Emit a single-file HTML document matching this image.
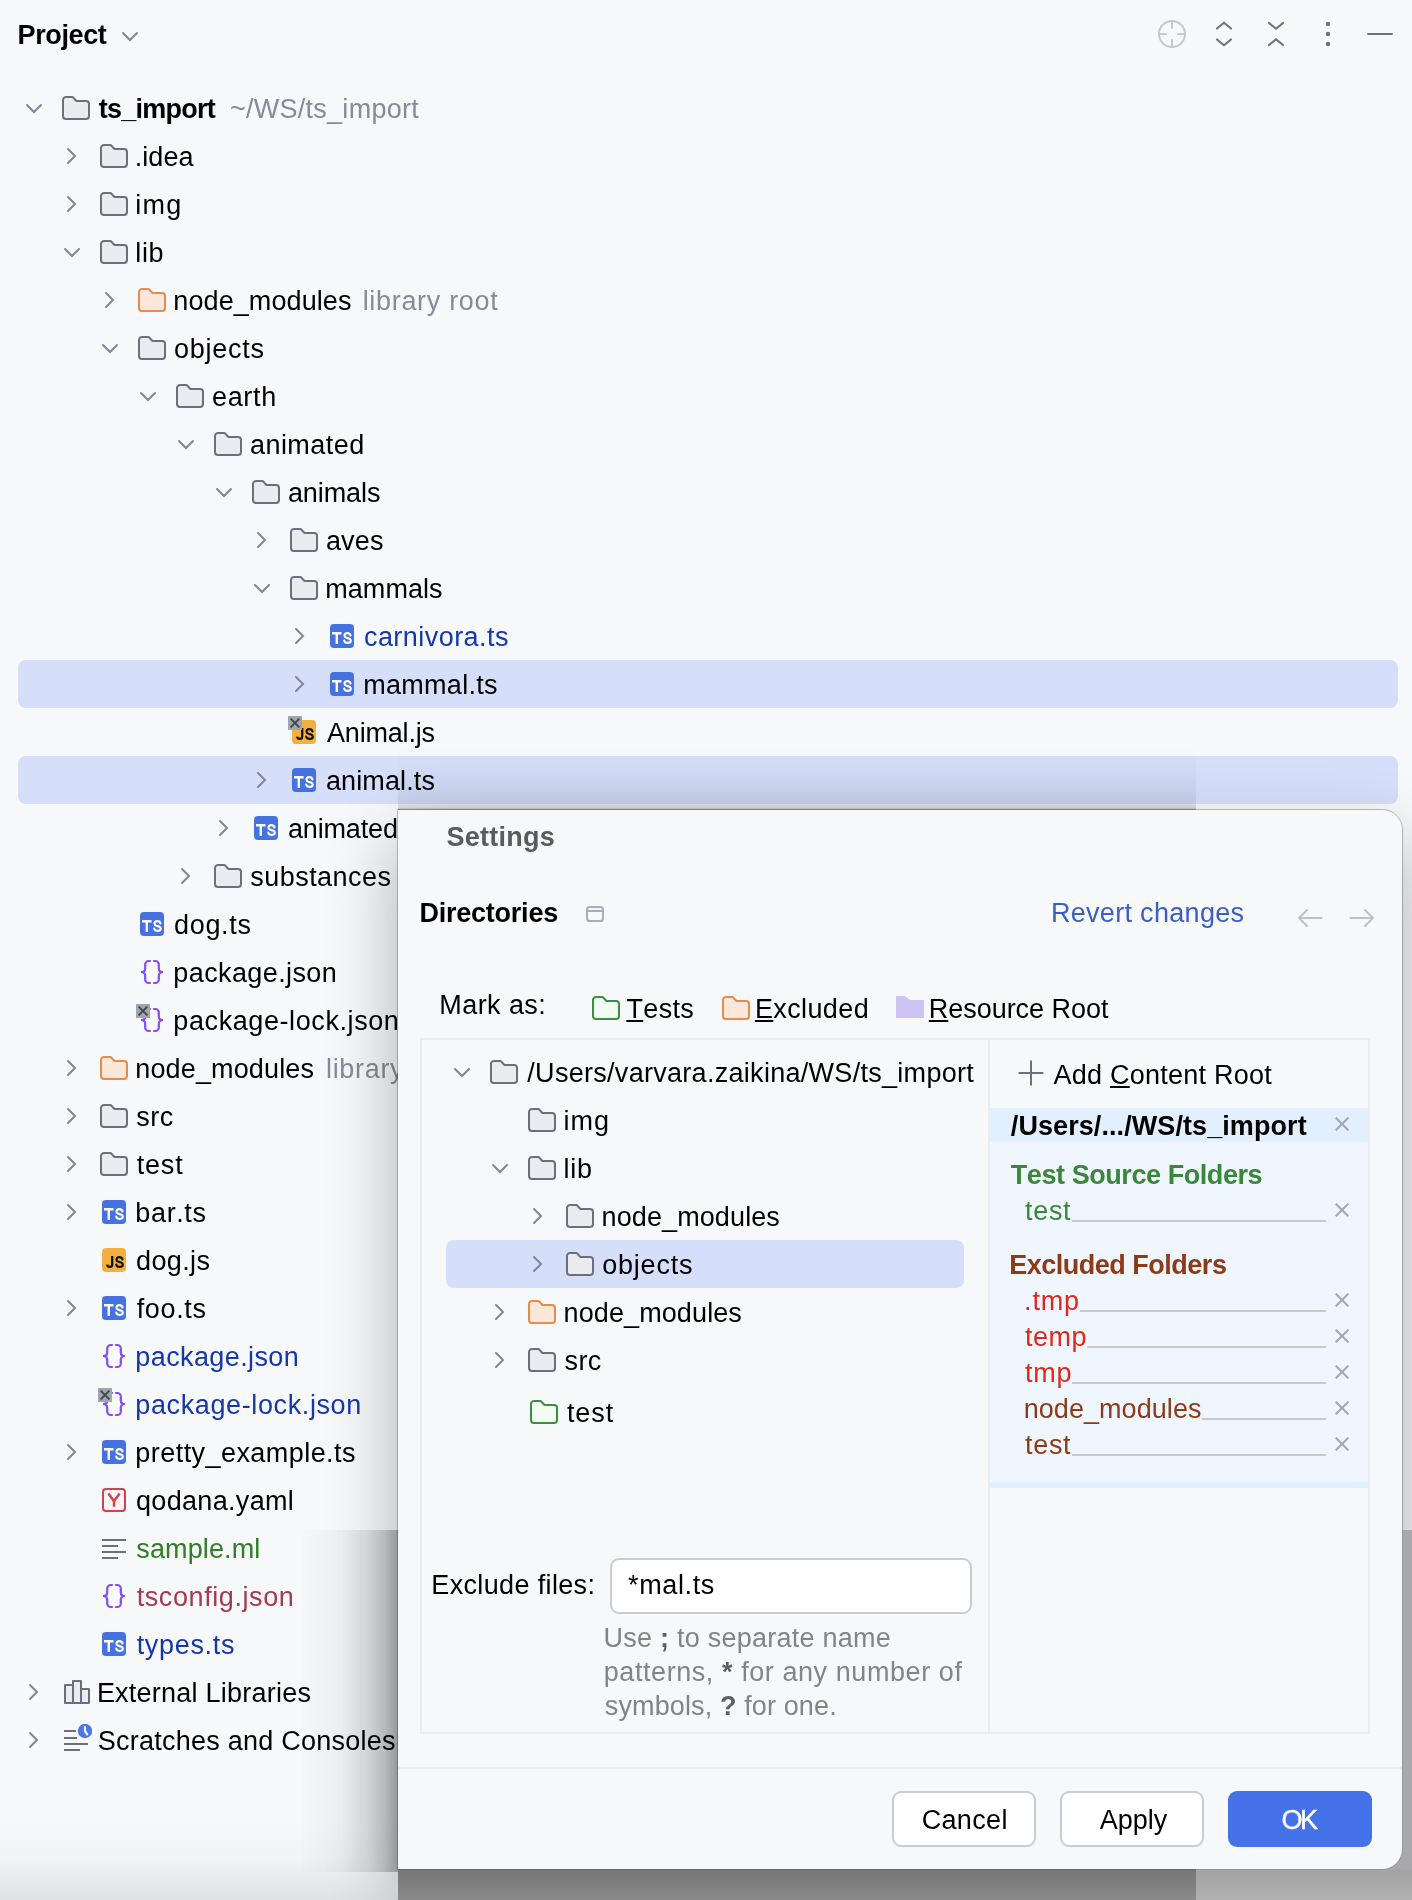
<!DOCTYPE html>
<html>
<head>
<meta charset="utf-8">
<title>Project - Settings</title>
<style>
html,body{margin:0;padding:0;}
body{width:1412px;height:1900px;position:relative;overflow:hidden;background:#f7f8fa;font-family:"Liberation Sans",sans-serif;font-kerning:none;}
.a{position:absolute;display:block;}
.t{position:absolute;white-space:nowrap;line-height:48px;}
.t u{text-decoration:underline;text-decoration-thickness:2px;text-underline-offset:2px;}
#left{position:absolute;left:0;top:0;width:1412px;height:1900px;overflow:hidden;will-change:transform;}
#dlg{position:absolute;left:398px;top:810px;width:1004px;height:1059px;background:#f7f8fa;border-radius:0 20px 20px 0;box-shadow:0 0 0 1px rgba(0,0,0,0.13),0 30px 70px 0 rgba(0,0,0,0.30);}
#dlgc{position:absolute;left:0;top:0;width:1412px;height:1900px;will-change:transform;}
</style>
</head>
<body>

<svg width="0" height="0" style="position:absolute">
<defs>
<symbol id="folder" viewBox="0 0 16 16"><path d="M8.10584 4.34613L8.25344 4.5H8.46667H13C13.8284 4.5 14.5 5.17157 14.5 6V12C14.5 12.8284 13.8284 13.5 13 13.5H3C2.17157 13.5 1.5 12.8284 1.5 12V4C1.5 3.17157 2.17157 2.5 3 2.5H6.12188C6.25821 2.5 6.38865 2.55567 6.48298 2.65409L8.10584 4.34613Z" fill="#EBECF0" stroke="#6C707E"/></symbol>
<symbol id="folderO" viewBox="0 0 16 16"><path d="M8.10584 4.34613L8.25344 4.5H8.46667H13C13.8284 4.5 14.5 5.17157 14.5 6V12C14.5 12.8284 13.8284 13.5 13 13.5H3C2.17157 13.5 1.5 12.8284 1.5 12V4C1.5 3.17157 2.17157 2.5 3 2.5H6.12188C6.25821 2.5 6.38865 2.55567 6.48298 2.65409L8.10584 4.34613Z" fill="#FCE8DA" stroke="#E58C4C"/></symbol>
<symbol id="folderG" viewBox="0 0 16 16"><path d="M8.10584 4.34613L8.25344 4.5H8.46667H13C13.8284 4.5 14.5 5.17157 14.5 6V12C14.5 12.8284 13.8284 13.5 13 13.5H3C2.17157 13.5 1.5 12.8284 1.5 12V4C1.5 3.17157 2.17157 2.5 3 2.5H6.12188C6.25821 2.5 6.38865 2.55567 6.48298 2.65409L8.10584 4.34613Z" fill="#F2FCF3" stroke="#3A8F47"/></symbol>
<symbol id="folderP" viewBox="0 0 16 16"><path d="M1 2H5.4L8.2 4H15V13H1Z" fill="#CEC3F2"/></symbol>
<symbol id="cr" viewBox="0 0 16 16"><path d="M6 11.5L9.5 8L6 4.5" fill="none" stroke="#818594" stroke-linecap="round"/></symbol>
<symbol id="cd" viewBox="0 0 16 16"><path d="M11.5 6.5L8 10L4.5 6.5" fill="none" stroke="#818594" stroke-linecap="round"/></symbol>
<symbol id="ts" viewBox="0 0 16 16"><rect x="2" y="2" width="12" height="12" rx="2" fill="#4571E1"/><path d="M3 6.65H7.75M5.4 6.65V12" stroke="#fff" stroke-width="1.2" fill="none"/><path d="M12.25 7.75C12.05 7 11.5 6.55 10.7 6.55C9.85 6.55 9.25 7.05 9.25 7.8C9.25 8.55 9.8 8.85 10.75 9.05C11.8 9.3 12.4 9.6 12.4 10.35C12.4 11.05 11.7 11.45 10.8 11.45C9.9 11.45 9.3 11 9.1 10.25" stroke="#fff" stroke-width="1.05" fill="none" stroke-linecap="round"/></symbol>
<symbol id="js" viewBox="0 0 16 16"><rect x="2" y="2" width="12" height="12" rx="2" fill="#F3B03F"/><path d="M7.1 6V10.2C7.1 11 6.6 11.4 5.9 11.4C5.2 11.4 4.7 11 4.6 10.3" stroke="#111" stroke-width="1.15" fill="none"/><path d="M12.25 7.75C12.05 7 11.5 6.55 10.7 6.55C9.85 6.55 9.25 7.05 9.25 7.8C9.25 8.55 9.8 8.85 10.75 9.05C11.8 9.3 12.4 9.6 12.4 10.35C12.4 11.05 11.7 11.45 10.8 11.45C9.9 11.45 9.3 11 9.1 10.25" stroke="#111" stroke-width="1.05" fill="none" stroke-linecap="round"/></symbol>
<symbol id="json" viewBox="0 0 16 16"><path d="M7 2.5H6.4C5.4 2.5 4.6 3.3 4.6 4.3V6.2C4.6 7.2 3.8 8 2.5 8C3.8 8 4.6 8.8 4.6 9.8V11.7C4.6 12.7 5.4 13.5 6.4 13.5H7" fill="none" stroke="#834DF0" stroke-width="1.1" stroke-linecap="round"/><path d="M9 2.5H9.6C10.6 2.5 11.4 3.3 11.4 4.3V6.2C11.4 7.2 12.2 8 13.5 8C12.2 8 11.4 8.8 11.4 9.8V11.7C11.4 12.7 10.6 13.5 9.6 13.5H9" fill="none" stroke="#834DF0" stroke-width="1.1" stroke-linecap="round"/></symbol>
<symbol id="yaml" viewBox="0 0 16 16"><rect x="2.5" y="2.5" width="11" height="11" rx="1.5" fill="#FFF5F5" stroke="#D2414D"/><path d="M5.2 4.8L8 8.6L10.8 4.8M8 8.6V11.4" fill="none" stroke="#D2414D" stroke-width="1.25"/></symbol>
<symbol id="text" viewBox="0 0 16 16"><path d="M2 4H14M2 7H10M2 10H14M2 13H10" stroke="#6C707E"/></symbol>
<symbol id="libs" viewBox="0 0 16 16"><path d="M2.5 4.5H6.5V13.5H2.5Z M6.5 2.5H10.5V13.5H6.5Z M10.5 6.5H14.5V13.5H10.5Z" fill="#EBECF0" stroke="#6C707E" stroke-linejoin="round"/></symbol>
<symbol id="scratch" viewBox="0 0 16 16"><path d="M2 3.5H8M2 7H8.5M2 10H14M2 13H10" stroke="#6C707E"/><circle cx="12.5" cy="3.5" r="3.6" fill="#4a78e8"/><path d="M12.5 1.6V3.6L13.6 5.2" fill="none" stroke="#fff" stroke-width="1.1" stroke-linecap="round"/></symbol>
<symbol id="excl" viewBox="0 0 16 16"><rect x="0" y="0" width="7" height="7" fill="#9fa6ad"/><path d="M1.3 1.3L5.7 5.7M5.7 1.3L1.3 5.7" stroke="#45484d" stroke-width="1"/></symbol>
<symbol id="locate" viewBox="0 0 16 16"><circle cx="8" cy="8" r="6.5" fill="none" stroke="#c6c7c9"/><path d="M8 1.5V5.4M8 10.6V14.5M1.5 8H5.4M10.6 8H14.5" stroke="#c6c7c9"/></symbol>
<symbol id="expall" viewBox="0 0 16 16"><path d="M4.5 5.3L8 2.4L11.5 5.3M4.5 10.7L8 13.6L11.5 10.7" fill="none" stroke="#6C707E" stroke-linecap="round"/></symbol>
<symbol id="colall" viewBox="0 0 16 16"><path d="M4.5 2.45L8 5.35L11.5 2.45M4.5 13.55L8 10.65L11.5 13.55" fill="none" stroke="#6C707E" stroke-linecap="round"/></symbol>
<symbol id="kebab" viewBox="0 0 16 16"><circle cx="8" cy="3" r="1.1" fill="#6C707E"/><circle cx="8" cy="8" r="1.1" fill="#6C707E"/><circle cx="8" cy="13" r="1.1" fill="#6C707E"/></symbol>
<symbol id="proj" viewBox="0 0 16 16"><rect x="4" y="4.5" width="8" height="7" rx="1.3" fill="none" stroke="#a8adbd"/><path d="M4 6.5H12" stroke="#a8adbd"/></symbol>
<symbol id="al" viewBox="0 0 16 16"><path d="M13.8 8H2.5M6.5 4L2.5 8L6.5 12" fill="none" stroke="#c0c1c4" stroke-linecap="round"/></symbol>
<symbol id="ar" viewBox="0 0 16 16"><path d="M2.2 8H13.5M9.5 4L13.5 8L9.5 12" fill="none" stroke="#c0c1c4" stroke-linecap="round"/></symbol>
<symbol id="plus" viewBox="0 0 16 16"><path d="M8 1.8V14.2M1.8 8H14.2" stroke="#6C707E"/></symbol>
<symbol id="x" viewBox="0 0 16 16"><path d="M4.85 4.85L11.15 11.15M11.15 4.85L4.85 11.15" stroke="#a3a6b6"/></symbol>
</defs>
</svg>

<div id="left">
<div class="a" style="left:18px;top:660px;width:1380px;height:48px;background:#d5dffa;border-radius:8px;"></div>
<div class="a" style="left:18px;top:756px;width:1380px;height:48px;background:#d5dffa;border-radius:8px;"></div>
<span class="t" style="left:17.59px;top:11.00px;font-size:27px;letter-spacing:-0.383px;color:#000;font-weight:bold;">Project</span>
<svg class="a" style="left:114px;top:20px" width="32" height="32" viewBox="0 0 16 16"><use href="#cd"/></svg>
<svg class="a" style="left:18px;top:92px;" width="32" height="32" viewBox="0 0 16 16"><use href="#cd"/></svg>
<svg class="a" style="left:60px;top:92px;" width="32" height="32" viewBox="0 0 16 16"><use href="#folder"/></svg>
<span class="t" style="left:98.77px;top:85.00px;font-size:27px;letter-spacing:-0.745px;color:#000;font-weight:bold;">ts_import</span>
<span class="t" style="left:229.99px;top:85.00px;font-size:27px;letter-spacing:0.263px;color:#868a9a;">~/WS/ts_import</span>
<svg class="a" style="left:56px;top:140px;" width="32" height="32" viewBox="0 0 16 16"><use href="#cr"/></svg>
<svg class="a" style="left:98px;top:140px;" width="32" height="32" viewBox="0 0 16 16"><use href="#folder"/></svg>
<span class="t" style="left:134.63px;top:133.00px;font-size:27px;letter-spacing:0.079px;color:#000;">.idea</span>
<svg class="a" style="left:56px;top:188px;" width="32" height="32" viewBox="0 0 16 16"><use href="#cr"/></svg>
<svg class="a" style="left:98px;top:188px;" width="32" height="32" viewBox="0 0 16 16"><use href="#folder"/></svg>
<span class="t" style="left:135.29px;top:181.00px;font-size:27px;letter-spacing:1.220px;color:#000;">img</span>
<svg class="a" style="left:56px;top:236px;" width="32" height="32" viewBox="0 0 16 16"><use href="#cd"/></svg>
<svg class="a" style="left:98px;top:236px;" width="32" height="32" viewBox="0 0 16 16"><use href="#folder"/></svg>
<span class="t" style="left:135.28px;top:229.00px;font-size:27px;letter-spacing:0.670px;color:#000;">lib</span>
<svg class="a" style="left:94px;top:284px;" width="32" height="32" viewBox="0 0 16 16"><use href="#cr"/></svg>
<svg class="a" style="left:136px;top:284px;" width="32" height="32" viewBox="0 0 16 16"><use href="#folderO"/></svg>
<span class="t" style="left:173.31px;top:277.00px;font-size:27px;letter-spacing:0.094px;color:#000;">node_modules</span>
<span class="t" style="left:362.68px;top:277.00px;font-size:27px;letter-spacing:0.680px;color:#868a9a;">library root</span>
<svg class="a" style="left:94px;top:332px;" width="32" height="32" viewBox="0 0 16 16"><use href="#cd"/></svg>
<svg class="a" style="left:136px;top:332px;" width="32" height="32" viewBox="0 0 16 16"><use href="#folder"/></svg>
<span class="t" style="left:173.97px;top:325.00px;font-size:27px;letter-spacing:0.744px;color:#000;">objects</span>
<svg class="a" style="left:132px;top:380px;" width="32" height="32" viewBox="0 0 16 16"><use href="#cd"/></svg>
<svg class="a" style="left:174px;top:380px;" width="32" height="32" viewBox="0 0 16 16"><use href="#folder"/></svg>
<span class="t" style="left:211.95px;top:373.00px;font-size:27px;letter-spacing:0.690px;color:#000;">earth</span>
<svg class="a" style="left:170px;top:428px;" width="32" height="32" viewBox="0 0 16 16"><use href="#cd"/></svg>
<svg class="a" style="left:212px;top:428px;" width="32" height="32" viewBox="0 0 16 16"><use href="#folder"/></svg>
<span class="t" style="left:249.95px;top:421.00px;font-size:27px;letter-spacing:0.459px;color:#000;">animated</span>
<svg class="a" style="left:208px;top:476px;" width="32" height="32" viewBox="0 0 16 16"><use href="#cd"/></svg>
<svg class="a" style="left:250px;top:476px;" width="32" height="32" viewBox="0 0 16 16"><use href="#folder"/></svg>
<span class="t" style="left:287.95px;top:469.00px;font-size:27px;letter-spacing:-0.086px;color:#000;">animals</span>
<svg class="a" style="left:246px;top:524px;" width="32" height="32" viewBox="0 0 16 16"><use href="#cr"/></svg>
<svg class="a" style="left:288px;top:524px;" width="32" height="32" viewBox="0 0 16 16"><use href="#folder"/></svg>
<span class="t" style="left:325.95px;top:517.00px;font-size:27px;letter-spacing:0.163px;color:#000;">aves</span>
<svg class="a" style="left:246px;top:572px;" width="32" height="32" viewBox="0 0 16 16"><use href="#cd"/></svg>
<svg class="a" style="left:288px;top:572px;" width="32" height="32" viewBox="0 0 16 16"><use href="#folder"/></svg>
<span class="t" style="left:325.31px;top:565.00px;font-size:27px;letter-spacing:0.027px;color:#000;">mammals</span>
<svg class="a" style="left:284px;top:620px;" width="32" height="32" viewBox="0 0 16 16"><use href="#cr"/></svg>
<svg class="a" style="left:326px;top:620px;" width="32" height="32" viewBox="0 0 16 16"><use href="#ts"/></svg>
<span class="t" style="left:363.95px;top:613.00px;font-size:27px;letter-spacing:0.452px;color:#1438ab;">carnivora.ts</span>
<svg class="a" style="left:284px;top:668px;" width="32" height="32" viewBox="0 0 16 16"><use href="#cr"/></svg>
<svg class="a" style="left:326px;top:668px;" width="32" height="32" viewBox="0 0 16 16"><use href="#ts"/></svg>
<span class="t" style="left:363.31px;top:661.00px;font-size:27px;letter-spacing:0.270px;color:#000;">mammal.ts</span>
<svg class="a" style="left:288px;top:716px;" width="32" height="32" viewBox="0 0 16 16"><use href="#js"/></svg>
<svg class="a" style="left:288px;top:716px;" width="32" height="32" viewBox="0 0 16 16"><use href="#excl"/></svg>
<span class="t" style="left:327.05px;top:709.00px;font-size:27px;letter-spacing:-0.200px;color:#000;">Animal.js</span>
<svg class="a" style="left:246px;top:764px;" width="32" height="32" viewBox="0 0 16 16"><use href="#cr"/></svg>
<svg class="a" style="left:288px;top:764px;" width="32" height="32" viewBox="0 0 16 16"><use href="#ts"/></svg>
<span class="t" style="left:325.95px;top:757.00px;font-size:27px;letter-spacing:0.123px;color:#000;">animal.ts</span>
<svg class="a" style="left:208px;top:812px;" width="32" height="32" viewBox="0 0 16 16"><use href="#cr"/></svg>
<svg class="a" style="left:250px;top:812px;" width="32" height="32" viewBox="0 0 16 16"><use href="#ts"/></svg>
<span class="t" style="left:287.95px;top:805.00px;font-size:27px;letter-spacing:-0.155px;color:#000;">animated.ts</span>
<svg class="a" style="left:170px;top:860px;" width="32" height="32" viewBox="0 0 16 16"><use href="#cr"/></svg>
<svg class="a" style="left:212px;top:860px;" width="32" height="32" viewBox="0 0 16 16"><use href="#folder"/></svg>
<span class="t" style="left:250.35px;top:853.00px;font-size:27px;letter-spacing:0.449px;color:#000;">substances</span>
<svg class="a" style="left:136px;top:908px;" width="32" height="32" viewBox="0 0 16 16"><use href="#ts"/></svg>
<span class="t" style="left:173.97px;top:901.00px;font-size:27px;letter-spacing:0.692px;color:#000;">dog.ts</span>
<svg class="a" style="left:136px;top:956px;" width="32" height="32" viewBox="0 0 16 16"><use href="#json"/></svg>
<span class="t" style="left:173.36px;top:949.00px;font-size:27px;letter-spacing:0.389px;color:#000;">package.json</span>
<svg class="a" style="left:136px;top:1004px;" width="32" height="32" viewBox="0 0 16 16"><use href="#json"/></svg>
<svg class="a" style="left:136px;top:1004px;" width="32" height="32" viewBox="0 0 16 16"><use href="#excl"/></svg>
<span class="t" style="left:173.36px;top:997.00px;font-size:27px;letter-spacing:0.586px;color:#000;">package-lock.json</span>
<svg class="a" style="left:56px;top:1052px;" width="32" height="32" viewBox="0 0 16 16"><use href="#cr"/></svg>
<svg class="a" style="left:98px;top:1052px;" width="32" height="32" viewBox="0 0 16 16"><use href="#folderO"/></svg>
<span class="t" style="left:135.31px;top:1045.00px;font-size:27px;letter-spacing:0.139px;color:#000;">node_modules</span>
<span class="t" style="left:325.98px;top:1045.00px;font-size:27px;letter-spacing:0.680px;color:#868a9a;">library root</span>
<svg class="a" style="left:56px;top:1100px;" width="32" height="32" viewBox="0 0 16 16"><use href="#cr"/></svg>
<svg class="a" style="left:98px;top:1100px;" width="32" height="32" viewBox="0 0 16 16"><use href="#folder"/></svg>
<span class="t" style="left:136.35px;top:1093.00px;font-size:27px;letter-spacing:0.436px;color:#000;">src</span>
<svg class="a" style="left:56px;top:1148px;" width="32" height="32" viewBox="0 0 16 16"><use href="#cr"/></svg>
<svg class="a" style="left:98px;top:1148px;" width="32" height="32" viewBox="0 0 16 16"><use href="#folder"/></svg>
<span class="t" style="left:136.69px;top:1141.00px;font-size:27px;letter-spacing:0.829px;color:#000;">test</span>
<svg class="a" style="left:56px;top:1196px;" width="32" height="32" viewBox="0 0 16 16"><use href="#cr"/></svg>
<svg class="a" style="left:98px;top:1196px;" width="32" height="32" viewBox="0 0 16 16"><use href="#ts"/></svg>
<span class="t" style="left:135.36px;top:1189.00px;font-size:27px;letter-spacing:0.618px;color:#000;">bar.ts</span>
<svg class="a" style="left:98px;top:1244px;" width="32" height="32" viewBox="0 0 16 16"><use href="#js"/></svg>
<span class="t" style="left:135.97px;top:1237.00px;font-size:27px;letter-spacing:0.392px;color:#000;">dog.js</span>
<svg class="a" style="left:56px;top:1292px;" width="32" height="32" viewBox="0 0 16 16"><use href="#cr"/></svg>
<svg class="a" style="left:98px;top:1292px;" width="32" height="32" viewBox="0 0 16 16"><use href="#ts"/></svg>
<span class="t" style="left:136.72px;top:1285.00px;font-size:27px;letter-spacing:0.644px;color:#000;">foo.ts</span>
<svg class="a" style="left:98px;top:1340px;" width="32" height="32" viewBox="0 0 16 16"><use href="#json"/></svg>
<span class="t" style="left:135.36px;top:1333.00px;font-size:27px;letter-spacing:0.389px;color:#1438ab;">package.json</span>
<svg class="a" style="left:98px;top:1388px;" width="32" height="32" viewBox="0 0 16 16"><use href="#json"/></svg>
<svg class="a" style="left:98px;top:1388px;" width="32" height="32" viewBox="0 0 16 16"><use href="#excl"/></svg>
<span class="t" style="left:135.36px;top:1381.00px;font-size:27px;letter-spacing:0.611px;color:#1438ab;">package-lock.json</span>
<svg class="a" style="left:56px;top:1436px;" width="32" height="32" viewBox="0 0 16 16"><use href="#cr"/></svg>
<svg class="a" style="left:98px;top:1436px;" width="32" height="32" viewBox="0 0 16 16"><use href="#ts"/></svg>
<span class="t" style="left:135.36px;top:1429.00px;font-size:27px;letter-spacing:0.439px;color:#000;">pretty_example.ts</span>
<svg class="a" style="left:98px;top:1484px;" width="32" height="32" viewBox="0 0 16 16"><use href="#yaml"/></svg>
<span class="t" style="left:135.97px;top:1477.00px;font-size:27px;letter-spacing:0.324px;color:#000;">qodana.yaml</span>
<svg class="a" style="left:98px;top:1532px;" width="32" height="32" viewBox="0 0 16 16"><use href="#text"/></svg>
<span class="t" style="left:136.35px;top:1525.00px;font-size:27px;letter-spacing:0.116px;color:#2f7f22;">sample.ml</span>
<svg class="a" style="left:98px;top:1580px;" width="32" height="32" viewBox="0 0 16 16"><use href="#json"/></svg>
<span class="t" style="left:136.69px;top:1573.00px;font-size:27px;letter-spacing:0.582px;color:#a33b4d;">tsconfig.json</span>
<svg class="a" style="left:98px;top:1628px;" width="32" height="32" viewBox="0 0 16 16"><use href="#ts"/></svg>
<span class="t" style="left:136.69px;top:1621.00px;font-size:27px;letter-spacing:0.678px;color:#1438ab;">types.ts</span>
<svg class="a" style="left:18px;top:1676px;" width="32" height="32" viewBox="0 0 16 16"><use href="#cr"/></svg>
<svg class="a" style="left:60px;top:1676px;" width="32" height="32" viewBox="0 0 16 16"><use href="#libs"/></svg>
<span class="t" style="left:96.89px;top:1669.00px;font-size:27px;letter-spacing:0.235px;color:#000;">External Libraries</span>
<svg class="a" style="left:18px;top:1724px;" width="32" height="32" viewBox="0 0 16 16"><use href="#cr"/></svg>
<svg class="a" style="left:60px;top:1724px;" width="32" height="32" viewBox="0 0 16 16"><use href="#scratch"/></svg>
<span class="t" style="left:97.87px;top:1717.00px;font-size:27px;letter-spacing:0.235px;color:#000;">Scratches and Consoles</span>
<svg class="a" style="left:1156px;top:18px" width="32" height="32" viewBox="0 0 16 16"><use href="#locate"/></svg>
<svg class="a" style="left:1208px;top:18px" width="32" height="32" viewBox="0 0 16 16"><use href="#expall"/></svg>
<svg class="a" style="left:1260px;top:18px" width="32" height="32" viewBox="0 0 16 16"><use href="#colall"/></svg>
<svg class="a" style="left:1312px;top:18px" width="32" height="32" viewBox="0 0 16 16"><use href="#kebab"/></svg>
<div class="a" style="left:1367px;top:33px;width:26px;height:2px;background:#6c707e;border-radius:1px;"></div>
</div>
<div id="dlg"></div>
<div class="a" style="left:398px;top:746px;width:798px;height:64px;background:linear-gradient(to bottom,rgba(0,0,0,0) 0%,rgba(0,0,0,0.02) 40%,rgba(0,0,0,0.065) 88%,rgba(0,0,0,0.12) 96%,rgba(0,0,0,0.3) 100%);"></div>
<div class="a" style="left:303px;top:1530px;width:95px;height:342px;background:linear-gradient(to right,rgba(0,0,0,0.008) 0%,rgba(0,0,0,0.03) 39%,rgba(0,0,0,0.10) 70%,rgba(0,0,0,0.166) 86%,rgba(0,0,0,0.28) 100%);"></div>
<div class="a" style="left:0px;top:1820px;width:398px;height:80px;background:linear-gradient(to bottom,rgba(0,0,0,0) 0%,rgba(0,0,0,0.02) 50%,rgba(0,0,0,0.09) 100%);"></div>
<div class="a" style="left:398px;top:1846px;width:798px;height:54px;background:linear-gradient(to bottom,#767676 0%,#767676 42%,#7a7a7a 58%,#8b8b8b 100%);"></div>
<div class="a" style="left:1196px;top:1846px;width:216px;height:54px;background:linear-gradient(to bottom,#a9a9ab 0%,#a9a9ab 42%,#a3a3a4 46%,#a7a7a8 64%,#b1b1b2 100%);"></div>
<div class="a" style="left:1380px;top:1530px;width:32px;height:330px;background:#a9a9ab;"></div>
<div id="dlg2" class="a" style="left:398px;top:810px;width:1004px;height:1059px;background:#f7f8fa;border-radius:0 20px 20px 0;box-shadow:0 0 0 1px rgba(0,0,0,0.12);"></div>
<div id="dlgc">
<span class="t" style="left:446.42px;top:813.00px;font-size:27px;letter-spacing:0.282px;color:#5b5b5c;font-weight:bold;">Settings</span>
<span class="t" style="left:419.39px;top:889.00px;font-size:27px;letter-spacing:-0.225px;color:#000;font-weight:bold;">Directories</span>
<svg class="a" style="left:579px;top:898px" width="32" height="32" viewBox="0 0 16 16"><use href="#proj"/></svg>
<span class="t" style="left:1050.89px;top:889.00px;font-size:27px;letter-spacing:0.314px;color:#3a5fc2;">Revert changes</span>
<svg class="a" style="left:1294px;top:902px" width="32" height="32" viewBox="0 0 16 16"><use href="#al"/></svg>
<svg class="a" style="left:1346px;top:902px" width="32" height="32" viewBox="0 0 16 16"><use href="#ar"/></svg>
<span class="t" style="left:439.29px;top:981.00px;font-size:27px;letter-spacing:0.423px;color:#000;">Mark as:</span>
<svg class="a" style="left:589.5px;top:992px;" width="32" height="32" viewBox="0 0 16 16"><use href="#folderG"/></svg>
<span class="t" style="left:626.39px;top:985.00px;font-size:27px;letter-spacing:0.368px;color:#000;"><u>T</u>ests</span>
<svg class="a" style="left:720px;top:992px;" width="32" height="32" viewBox="0 0 16 16"><use href="#folderO"/></svg>
<span class="t" style="left:754.89px;top:985.00px;font-size:27px;letter-spacing:0.383px;color:#000;"><u>E</u>xcluded</span>
<svg class="a" style="left:894px;top:992px;" width="32" height="32" viewBox="0 0 16 16"><use href="#folderP"/></svg>
<span class="t" style="left:928.79px;top:985.00px;font-size:27px;letter-spacing:-0.040px;color:#000;"><u>R</u>esource Root</span>
<div class="a" style="left:420px;top:1038px;width:950px;height:696px;border:2px solid #ebecf0;box-sizing:border-box;"></div>
<div class="a" style="left:988px;top:1040px;width:2px;height:692px;background:#ebecf0;"></div>
<div class="a" style="left:990px;top:1108px;width:378px;height:34px;background:#e2effe;"></div>
<div class="a" style="left:990px;top:1142px;width:378px;height:340px;background:#f0f6fe;"></div>
<div class="a" style="left:990px;top:1482px;width:378px;height:6px;background:#e2effe;"></div>
<div class="a" style="left:446px;top:1240px;width:518px;height:48px;background:#d5dffa;border-radius:8px;"></div>
<svg class="a" style="left:446px;top:1056px;" width="32" height="32" viewBox="0 0 16 16"><use href="#cd"/></svg>
<svg class="a" style="left:488px;top:1056px;" width="32" height="32" viewBox="0 0 16 16"><use href="#folder"/></svg>
<span class="t" style="left:527.30px;top:1049.00px;font-size:27px;letter-spacing:0.291px;color:#000;">/Users/varvara.zaikina/WS/ts_import</span>
<svg class="a" style="left:526px;top:1104px;" width="32" height="32" viewBox="0 0 16 16"><use href="#folder"/></svg>
<span class="t" style="left:563.49px;top:1097.00px;font-size:27px;letter-spacing:0.970px;color:#000;">img</span>
<svg class="a" style="left:484px;top:1152px;" width="32" height="32" viewBox="0 0 16 16"><use href="#cd"/></svg>
<svg class="a" style="left:526px;top:1152px;" width="32" height="32" viewBox="0 0 16 16"><use href="#folder"/></svg>
<span class="t" style="left:563.48px;top:1145.00px;font-size:27px;letter-spacing:0.770px;color:#000;">lib</span>
<svg class="a" style="left:522px;top:1200px;" width="32" height="32" viewBox="0 0 16 16"><use href="#cr"/></svg>
<svg class="a" style="left:564px;top:1200px;" width="32" height="32" viewBox="0 0 16 16"><use href="#folder"/></svg>
<span class="t" style="left:601.51px;top:1193.00px;font-size:27px;letter-spacing:0.112px;color:#000;">node_modules</span>
<svg class="a" style="left:522px;top:1248px;" width="32" height="32" viewBox="0 0 16 16"><use href="#cr"/></svg>
<svg class="a" style="left:564px;top:1248px;" width="32" height="32" viewBox="0 0 16 16"><use href="#folder"/></svg>
<span class="t" style="left:602.17px;top:1241.00px;font-size:27px;letter-spacing:0.810px;color:#000;">objects</span>
<svg class="a" style="left:484px;top:1296px;" width="32" height="32" viewBox="0 0 16 16"><use href="#cr"/></svg>
<svg class="a" style="left:526px;top:1296px;" width="32" height="32" viewBox="0 0 16 16"><use href="#folderO"/></svg>
<span class="t" style="left:563.51px;top:1289.00px;font-size:27px;letter-spacing:0.112px;color:#000;">node_modules</span>
<svg class="a" style="left:484px;top:1344px;" width="32" height="32" viewBox="0 0 16 16"><use href="#cr"/></svg>
<svg class="a" style="left:526px;top:1344px;" width="32" height="32" viewBox="0 0 16 16"><use href="#folder"/></svg>
<span class="t" style="left:564.55px;top:1337.00px;font-size:27px;letter-spacing:0.336px;color:#000;">src</span>
<svg class="a" style="left:528px;top:1396px;" width="32" height="32" viewBox="0 0 16 16"><use href="#folderG"/></svg>
<span class="t" style="left:566.89px;top:1389.00px;font-size:27px;letter-spacing:0.929px;color:#000;">test</span>
<svg class="a" style="left:1014.5px;top:1057px;" width="32" height="32" viewBox="0 0 16 16"><use href="#plus"/></svg>
<span class="t" style="left:1053.45px;top:1051.00px;font-size:27px;letter-spacing:0.241px;color:#000;">Add <u>C</u>ontent Root</span>
<span class="t" style="left:1010.84px;top:1102.00px;font-size:27px;letter-spacing:0.078px;color:#000;font-weight:bold;">/Users/.../WS/ts_import</span>
<svg class="a" style="left:1326px;top:1108px;" width="32" height="32" viewBox="0 0 16 16"><use href="#x"/></svg>
<span class="t" style="left:1010.80px;top:1151.00px;font-size:27px;letter-spacing:-0.431px;color:#39883a;font-weight:bold;">Test Source Folders</span>
<span class="t" style="left:1009.29px;top:1241.00px;font-size:27px;letter-spacing:-0.496px;color:#8c3a17;font-weight:bold;">Excluded Folders</span>
<span class="t" style="left:1025.09px;top:1187.00px;font-size:27px;letter-spacing:0.662px;color:#39883a;">test</span>
<div class="a" style="left:1072px;top:1220px;width:254px;height:2px;background:#c9c9cb;"></div>
<svg class="a" style="left:1326px;top:1194px;" width="32" height="32" viewBox="0 0 16 16"><use href="#x"/></svg>
<span class="t" style="left:1024.03px;top:1277.00px;font-size:27px;letter-spacing:0.863px;color:#e0291c;">.tmp</span>
<div class="a" style="left:1080px;top:1310px;width:246px;height:2px;background:#c9c9cb;"></div>
<svg class="a" style="left:1326px;top:1284px;" width="32" height="32" viewBox="0 0 16 16"><use href="#x"/></svg>
<span class="t" style="left:1025.09px;top:1313.00px;font-size:27px;letter-spacing:0.506px;color:#e0291c;">temp</span>
<div class="a" style="left:1087px;top:1346px;width:239px;height:2px;background:#c9c9cb;"></div>
<svg class="a" style="left:1326px;top:1320px;" width="32" height="32" viewBox="0 0 16 16"><use href="#x"/></svg>
<span class="t" style="left:1025.09px;top:1349.00px;font-size:27px;letter-spacing:0.717px;color:#e0291c;">tmp</span>
<div class="a" style="left:1072px;top:1382px;width:254px;height:2px;background:#c9c9cb;"></div>
<svg class="a" style="left:1326px;top:1356px;" width="32" height="32" viewBox="0 0 16 16"><use href="#x"/></svg>
<span class="t" style="left:1023.71px;top:1385.00px;font-size:27px;letter-spacing:0.058px;color:#8c3a17;">node_modules</span>
<div class="a" style="left:1202px;top:1418px;width:124px;height:2px;background:#c9c9cb;"></div>
<svg class="a" style="left:1326px;top:1392px;" width="32" height="32" viewBox="0 0 16 16"><use href="#x"/></svg>
<span class="t" style="left:1025.09px;top:1421.00px;font-size:27px;letter-spacing:0.662px;color:#8c3a17;">test</span>
<div class="a" style="left:1072px;top:1454px;width:254px;height:2px;background:#c9c9cb;"></div>
<svg class="a" style="left:1326px;top:1428px;" width="32" height="32" viewBox="0 0 16 16"><use href="#x"/></svg>
<span class="t" style="left:431.29px;top:1561.00px;font-size:27px;letter-spacing:0.354px;color:#000;">Exclude files:</span>
<div class="a" style="left:610px;top:1558px;width:362px;height:56px;background:#fff;border:2px solid #c9ccd6;border-radius:9px;box-sizing:border-box;"></div>
<span class="t" style="left:628.06px;top:1561.00px;font-size:27px;letter-spacing:0.616px;color:#000;">*mal.ts</span>
<span class="t" style="left:603.42px;top:1614.00px;font-size:27px;letter-spacing:0.249px;color:#838486;">Use <b style="color:#5e5f62">;</b> to separate name</span>
<span class="t" style="left:603.76px;top:1648.00px;font-size:27px;letter-spacing:0.569px;color:#838486;">patterns, <b style="color:#5e5f62">*</b> for any number of</span>
<span class="t" style="left:604.75px;top:1682.00px;font-size:27px;letter-spacing:0.129px;color:#838486;">symbols, <b style="color:#5e5f62">?</b> for one.</span>
<div class="a" style="left:398px;top:1767px;width:1004px;height:2px;background:#ebecf0;"></div>
<div class="a" style="left:892px;top:1791px;width:144px;height:56px;background:#fff;border:2px solid #c9ccd6;border-radius:9px;box-sizing:border-box;"></div>
<span class="t" style="left:921.63px;top:1796.00px;font-size:27px;letter-spacing:0.366px;color:#000;">Cancel</span>
<div class="a" style="left:1060px;top:1791px;width:144px;height:56px;background:#fff;border:2px solid #c9ccd6;border-radius:9px;box-sizing:border-box;"></div>
<span class="t" style="left:1099.65px;top:1796.00px;font-size:27px;letter-spacing:0.016px;color:#000;">Apply</span>
<div class="a" style="left:1228px;top:1791px;width:144px;height:56px;background:#4572e8;border-radius:9px;"></div>
<span class="t" style="left:1281.42px;top:1796.00px;font-size:27px;letter-spacing:-2.428px;color:#fff;-webkit-text-stroke:0.4px #fff;">OK</span>
</div>
</body>
</html>
